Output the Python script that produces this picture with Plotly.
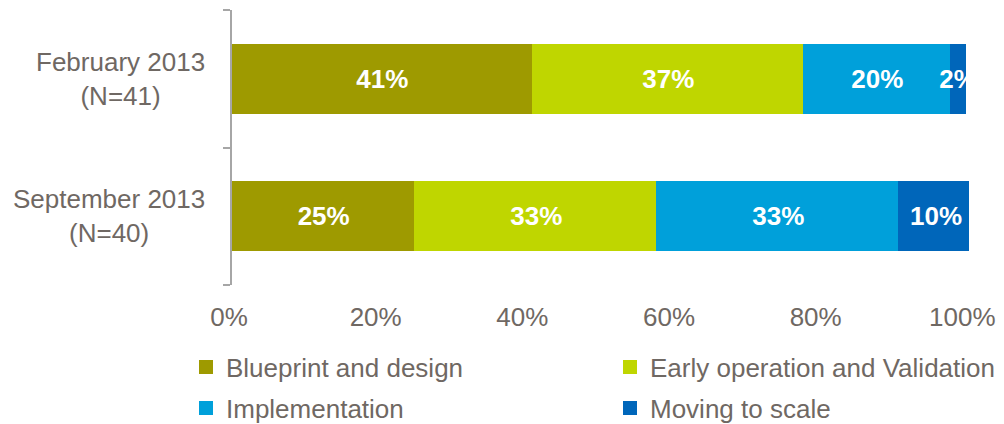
import plotly.graph_objects as go

# Survey waves (top to bottom) and their sample sizes
periods = ["February 2013", "September 2013"]
sample_sizes = [41, 40]

# Share of respondents in each stage, per wave (%)
blueprint = [41, 25]
early_operation = [37, 33]
implementation = [20, 33]
moving_to_scale = [2, 10]

stage_names = [
    "Blueprint and design",
    "Early operation and Validation",
    "Implementation",
    "Moving to scale",
]
stage_values = [blueprint, early_operation, implementation, moving_to_scale]
stage_colors = ["#9E9A00", "#BFD600", "#00A0DA", "#0066BA"]
legend_ids = ["legend", "legend2", "legend3", "legend4"]

x_ticks = [0, 20, 40, 60, 80, 100]
x_tick_labels = ["0%", "20%", "40%", "60%", "80%", "100%"]

FONT = "Liberation Sans, Arial, sans-serif"
TEXT_GREY = "#6F6863"
AXIS_GREY = "#A6A6A6"

W, H = 1004, 424
M_L, M_R, M_T, M_B = 232, 35, 10, 139
PLOT_W = W - M_L - M_R
PLOT_H = H - M_T - M_B


def px_x(px):
    return (px - M_L) / PLOT_W


def px_y(py):
    return (H - M_B - py) / PLOT_H


fig = go.Figure()
for name, vals, color, leg in zip(stage_names, stage_values, stage_colors, legend_ids):
    fig.add_trace(go.Bar(
        name=name,
        y=periods,
        x=vals,
        orientation="h",
        marker=dict(color=color, line=dict(color=color, width=2)),
        text=[f"{v}%" for v in vals],
        texttemplate="%{text}",
        textposition="inside",
        insidetextanchor="middle",
        textangle=0,
        constraintext="none",
        textfont=dict(family=FONT, size=26, color="white", weight="bold"),
        hoverinfo="skip",
        legend=leg,
    ))

# Two-line wave labels, right-aligned block with centred lines
for period, n in zip(periods, sample_sizes):
    fig.add_annotation(
        x=px_x(207), xref="paper", y=period, yref="y",
        text=f"{period}<br>(N={n})",
        xanchor="right", yanchor="middle", align="center",
        showarrow=False,
        font=dict(family=FONT, size=26, color=TEXT_GREY),
    )

legend_style = dict(
    bgcolor="rgba(0,0,0,0)",
    font=dict(family=FONT, size=26, color=TEXT_GREY),
    xanchor="left", yanchor="middle",
    itemwidth=30,
    borderwidth=0,
)
legend_pos = [(226, 367), (650, 367), (226, 408), (650, 408)]
legend_layout = {}
for leg, (tx, ty) in zip(legend_ids, legend_pos):
    legend_layout[leg] = dict(legend_style, x=px_x(tx - 40), y=px_y(ty))

fig.update_layout(
    width=W, height=H,
    margin=dict(l=M_L, r=M_R, t=M_T, b=M_B, pad=0, autoexpand=False),
    paper_bgcolor="white", plot_bgcolor="white",
    barmode="stack",
    bargap=0.5055,
    showlegend=True,
    font=dict(family=FONT, size=26, color=TEXT_GREY),
    xaxis=dict(
        range=[0, 100.5],
        tickvals=x_ticks, ticktext=x_tick_labels,
        showgrid=False, zeroline=False, showline=False, ticks="",
        ticklabelshift=-3,
        ticklabelstandoff=14,
        tickfont=dict(family=FONT, size=26, color=TEXT_GREY),
        automargin=False,
        fixedrange=True,
    ),
    yaxis=dict(
        type="category",
        categoryorder="array", categoryarray=periods[::-1],
        range=[-0.5, 1.5],
        showticklabels=False,
        showgrid=False, zeroline=False,
        showline=True, linecolor=AXIS_GREY, linewidth=1.5,
        ticks="outside", tickson="boundaries", ticklen=7,
        tickcolor=AXIS_GREY, tickwidth=1.5,
        automargin=False,
        fixedrange=True,
    ),
    **legend_layout,
)

fig.write_html("out.html")
